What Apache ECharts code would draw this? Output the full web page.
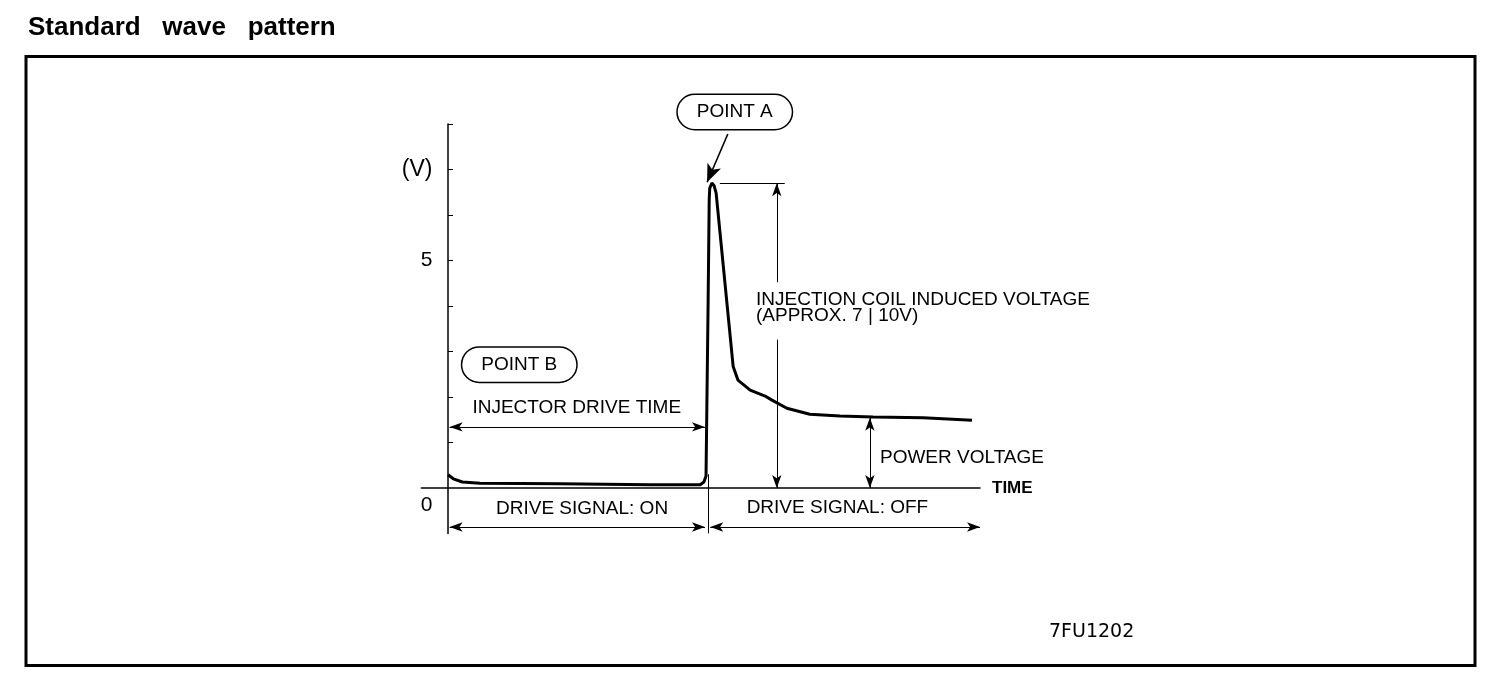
<!DOCTYPE html>
<html lang="en">
<head>
    <meta charset="UTF-8">
    <title>Standard wave pattern</title>
    <script src="https://cdn.jsdelivr.net/npm/echarts@6/dist/echarts.min.js"></script>
    <style>
        html, body { margin: 0; padding: 0; background: #fff; }
        #main { width: 1504px; height: 678px; }
    </style>
</head>
<body>
    <div id="main"></div>
    <script>
        // injector wave: time (arbitrary units) / voltage (V)
        var times = [0, 0.1, 0.27, 0.6, 2.1, 3.8, 4.74, 4.81, 4.85, 4.89, 4.91, 4.92, 4.96, 5.0, 5.04,
                     5.36, 5.45, 5.68, 5.96, 6.09, 6.37, 6.8, 7.37, 7.99, 8.93, 9.85];
        var volts = [0.29, 0.2, 0.13, 0.1, 0.09, 0.07, 0.07, 0.13, 0.26, 4.14, 6.34, 6.59, 6.7, 6.65, 6.48,
                     2.67, 2.37, 2.15, 2.02, 1.93, 1.75, 1.62, 1.58, 1.56, 1.54, 1.49];

        var yTicks = [1, 2, 3, 4, 5, 6, 7, 8];
        var yLabels = [0, 5, 7];

        // dimension lines: [from, to, arrow at from, arrow at to]
        var dimFrom = [[0.03, 1.34], [0.03, -0.86], [4.93, -0.86], [4.89, -1], [5.11, 6.7], [6.18, 6.7], [6.18, 3.26], [7.93, 1.54]];
        var dimTo   = [[4.83, 1.34], [4.83, -0.86], [10, -0.86], [4.89, 0.3], [6.33, 6.7], [6.18, 4.52], [6.18, 0], [7.93, 0]];
        var arrowFrom = [true, true, true, false, false, true, false, true];
        var arrowTo   = [true, true, true, false, false, false, true, true];

        // POINT A pointer
        var pointerFrom = [5.26, 7.78];
        var pointerTo = [4.87, 6.72];

        // text notes
        var noteText = ['INJECTOR DRIVE TIME', 'DRIVE SIGNAL: ON', 'DRIVE SIGNAL: OFF',
                        'INJECTION COIL INDUCED VOLTAGE\n(APPROX. 7 | 10V)', 'POWER VOLTAGE'];
        var noteAt = [[2.42, 1.76], [2.52, -0.45], [7.32, -0.44], [5.79, 3.97], [8.12, 0.67]];
        var noteLeft = [false, false, false, true, true];

        // rounded callouts
        var calloutText = ['POINT A', 'POINT B'];
        var calloutAt = [[5.39, 8], [1.34, 2.71]];
        var calloutLift = [12, 0];

        var font = "'Liberation Sans', Arial, sans-serif";
        var myChart = echarts.init(document.getElementById('main'));

        var lines = [];
        for (var i = 0; i < dimFrom.length; i++) {
            lines.push([
                { coord: dimFrom[i], symbol: arrowFrom[i] ? 'arrow' : 'none' },
                { coord: dimTo[i], symbol: arrowTo[i] ? 'arrow' : 'none' }
            ]);
        }
        lines.push([
            { coord: pointerFrom, symbol: 'none', lineStyle: { width: 1.6 } },
            { coord: pointerTo, symbol: 'arrow', symbolSize: [11, 18] }
        ]);

        var points = [];
        for (var j = 0; j < noteText.length; j++) {
            points.push({
                coord: noteAt[j],
                label: {
                    show: true,
                    formatter: noteText[j],
                    position: noteLeft[j] ? 'right' : 'inside',
                    distance: 0,
                    lineHeight: 16
                }
            });
        }
        for (var k = 0; k < calloutText.length; k++) {
            points.push({
                coord: calloutAt[k],
                label: {
                    show: true,
                    formatter: calloutText[k],
                    position: 'inside',
                    offset: [0, -calloutLift[k]],
                    backgroundColor: '#fff',
                    borderColor: '#000',
                    borderWidth: 1.5,
                    borderRadius: 18,
                    padding: [8, 19, 7, 19],
                    lineHeight: 19
                }
            });
        }

        myChart.setOption({
            animation: false,
            title: {
                text: 'Standard   wave   pattern',
                left: 23,
                top: 10,
                textStyle: { fontFamily: font, fontSize: 26, fontWeight: 'bold', color: '#000' }
            },
            grid: { left: 421.4, right: 524, top: 124, bottom: 144.6 },
            xAxis: {
                type: 'value',
                min: -0.5,
                max: 10,
                name: 'TIME',
                nameLocation: 'end',
                nameGap: 12,
                nameTextStyle: { fontFamily: font, fontSize: 17, fontWeight: 'bold', color: '#000' },
                axisLine: { onZero: true, lineStyle: { color: '#000', width: 1.5 } },
                axisTick: { show: false },
                axisLabel: { show: false },
                splitLine: { show: false }
            },
            yAxis: {
                type: 'value',
                min: -1,
                max: 8,
                interval: 1,
                axisLine: { show: true, onZero: true, lineStyle: { color: '#000', width: 1.5 } },
                axisTick: { show: true, inside: true, length: 5, customValues: yTicks, lineStyle: { color: '#000' } },
                axisLabel: {
                    customValues: yLabels,
                    margin: -11,
                    color: '#000',
                    fontFamily: font,
                    fontSize: 21,
                    formatter: function (v) {
                        if (v === 0) return '{z|0}';
                        if (v === 7) return '{v|(V)}';
                        return String(v);
                    },
                    rich: {
                        z: { fontFamily: font, fontSize: 21, color: '#000', padding: [34, 0, 0, 0] },
                        v: { fontFamily: font, fontSize: 23, color: '#000' }
                    }
                },
                splitLine: { show: false }
            },
            series: [{
                type: 'line',
                data: times.map(function (t, i) { return [t, volts[i]]; }),
                symbol: 'none',
                clip: false,
                silent: true,
                lineStyle: { color: '#000', width: 3 },
                markLine: {
                    silent: true,
                    symbol: ['none', 'none'],
                    symbolSize: [7, 13],
                    label: { show: false },
                    lineStyle: { color: '#000', width: 1, type: 'solid' },
                    itemStyle: { color: '#000' },
                    data: lines
                },
                markPoint: {
                    silent: true,
                    symbol: 'circle',
                    symbolSize: 0,
                    label: { color: '#000', fontFamily: font, fontSize: 19 },
                    data: points
                }
            }],
            graphic: [{
                type: 'rect',
                shape: { x: 26, y: 56.5, width: 1449, height: 609 },
                style: { fill: 'none', stroke: '#000', lineWidth: 3 }
            }, {
                type: 'text',
                left: 1049,
                top: 623,
                style: { text: '7FU1202', fill: '#000', font: '19px "DejaVu Sans"' }
            }]
        });
    </script>
</body>
</html>
